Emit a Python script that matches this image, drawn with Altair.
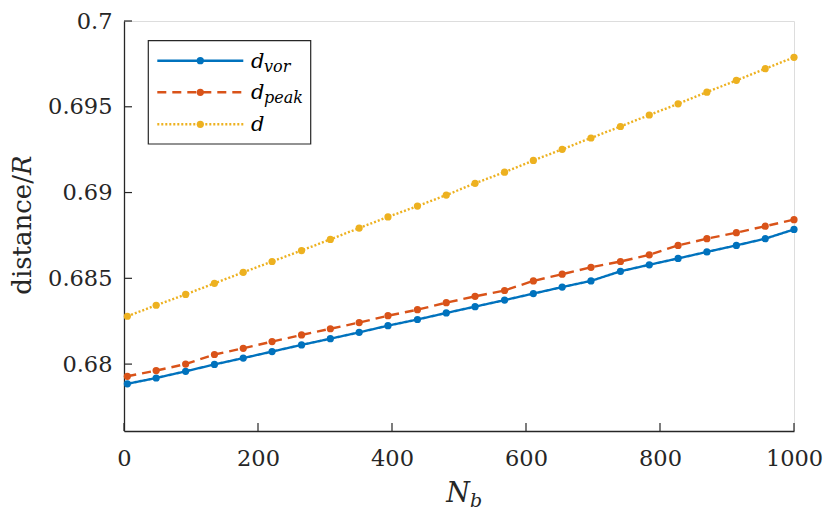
import altair as alt
import pandas as pd

# ---- data ----
Nb = [5, 48, 92, 135, 178, 221, 265, 308, 351, 394, 438, 481, 524, 568,
      611, 654, 697, 741, 784, 827, 870, 914, 957, 1000]
d_vor = [0.67885, 0.67919, 0.67958, 0.67998, 0.68035, 0.68073, 0.68112, 0.68148,
         0.68185, 0.68224, 0.68260, 0.68298, 0.68335, 0.68373, 0.68411, 0.68449,
         0.68485, 0.68541, 0.68579, 0.68616, 0.68654, 0.68692, 0.68731, 0.68785]
d_peak = [0.67929, 0.67962, 0.68000, 0.68056, 0.68092, 0.68131, 0.68170, 0.68206,
          0.68242, 0.68282, 0.68317, 0.68358, 0.68395, 0.68429, 0.68485, 0.68524,
          0.68564, 0.68598, 0.68637, 0.68692, 0.68731, 0.68766, 0.68804, 0.68842]
d_all = [0.68279, 0.68343, 0.68406, 0.68471, 0.68535, 0.68598, 0.68662, 0.68727,
         0.68793, 0.68858, 0.68921, 0.68985, 0.69054, 0.69119, 0.69187, 0.69252,
         0.69318, 0.69385, 0.69452, 0.69517, 0.69585, 0.69654, 0.69722, 0.69788]
x_ticks = [0, 200, 400, 600, 800, 1000]
y_ticks = [0.68, 0.685, 0.69, 0.695, 0.7]

series = [
    ("vor", d_vor, "#0072BD", [1, 0]),
    ("peak", d_peak, "#D95319", [9, 6]),
    ("", d_all, "#EDB120", [2, 2]),
]

W, H = 670, 410
FONT = "DejaVu Serif"
AX = "#262626"
LW = 2.4
MS = 52
LFS = 22.5

xs = alt.Scale(domain=[0, 1000], nice=False, zero=False)
ys = alt.Scale(domain=[0.6761, 0.7], nice=False, zero=False)

xaxis = alt.Axis(values=x_ticks, ticks=False, tickSize=0, grid=False, domainColor=AX,
                 domainWidth=1.3, labelFont=FONT, labelFontSize=LFS, labelColor=AX,
                 labelPadding=16, title=None, labelFlush=False, format="d")
yaxis = alt.Axis(values=y_ticks, ticks=False, tickSize=0, grid=False, domainColor=AX,
                 domainWidth=1.3, labelFont=FONT, labelFontSize=LFS, labelColor=AX,
                 labelPadding=12, title=None, format="~g", labelFlush=False)

layers = []
for i, (name, vals, col, dash) in enumerate(series):
    df = pd.DataFrame({"Nb": Nb, "v": vals})
    base = alt.Chart(df)
    if i == 0:
        enc_x = alt.X("Nb:Q", scale=xs, axis=xaxis)
        enc_y = alt.Y("v:Q", scale=ys, axis=yaxis)
    else:
        enc_x = alt.X("Nb:Q", scale=xs)
        enc_y = alt.Y("v:Q", scale=ys)
    layers.append(base.mark_line(color=col, strokeWidth=LW, strokeDash=dash)
                  .encode(x=enc_x, y=enc_y))
    layers.append(base.mark_point(filled=True, color=col, size=MS, opacity=1)
                  .encode(x="Nb:Q", y="v:Q"))

# inward ticks
layers.append(alt.Chart(pd.DataFrame({"t": x_ticks})).mark_rule(color=AX, strokeWidth=1.2)
              .encode(x=alt.X("t:Q", scale=xs), y=alt.value(H), y2=alt.value(H - 8)))
layers.append(alt.Chart(pd.DataFrame({"t": y_ticks})).mark_rule(color=AX, strokeWidth=1.2)
              .encode(y=alt.Y("t:Q", scale=ys), x=alt.value(0), x2=alt.value(8)))

dummy = alt.Chart(pd.DataFrame({"a": [0]}))

# legend box
layers.append(dummy.mark_rect(fill="white", stroke=AX, strokeWidth=1.2)
              .encode(x=alt.value(24.3), x2=alt.value(186.7), y=alt.value(19.7), y2=alt.value(123)))
rows = [39.7, 71.3, 103.3]
for (name, vals, col, dash), ry in zip(series, rows):
    layers.append(dummy.mark_rule(color=col, strokeWidth=LW, strokeDash=dash)
                  .encode(x=alt.value(33.3), x2=alt.value(119.3), y=alt.value(ry)))
    layers.append(dummy.mark_point(filled=True, color=col, size=MS, opacity=1)
                  .encode(x=alt.value(76.3), y=alt.value(ry)))
    layers.append(dummy.mark_text(text="d", font=FONT, fontSize=21, fontStyle="italic",
                                  align="left", baseline="alphabetic", color="black")
                  .encode(x=alt.value(127), y=alt.value(ry + 7)))
    if name:
        layers.append(dummy.mark_text(text=name, font=FONT, fontSize=16, fontStyle="italic",
                                      align="left", baseline="alphabetic", color="black")
                      .encode(x=alt.value(140), y=alt.value(ry + 11)))

# axis titles
layers.append(dummy.mark_text(text="N", font=FONT, fontSize=27, fontStyle="italic",
                              align="center", baseline="alphabetic", color=AX)
              .encode(x=alt.value(334), y=alt.value(481)))
layers.append(dummy.mark_text(text="b", font=FONT, fontSize=19, fontStyle="italic",
                              align="left", baseline="alphabetic", color=AX)
              .encode(x=alt.value(346), y=alt.value(486)))
layers.append(dummy.mark_text(text="distance/", font=FONT, fontSize=26, angle=270,
                              align="right", baseline="middle", color=AX)
              .encode(x=alt.value(-101), y=alt.value(154)))
layers.append(dummy.mark_text(text="R", font=FONT, fontSize=26, fontStyle="italic", angle=270,
                              align="left", baseline="middle", color=AX)
              .encode(x=alt.value(-101), y=alt.value(154)))

chart = alt.layer(*layers).properties(
    width=W, height=H,
    autosize=alt.AutoSizeParams(type="none"),
    padding={"left": 116, "top": 13, "right": 29, "bottom": 82},
).configure_view(stroke=None).configure(background="white")

chart.save("out.html", embed_options={"renderer": "svg", "actions": False})
